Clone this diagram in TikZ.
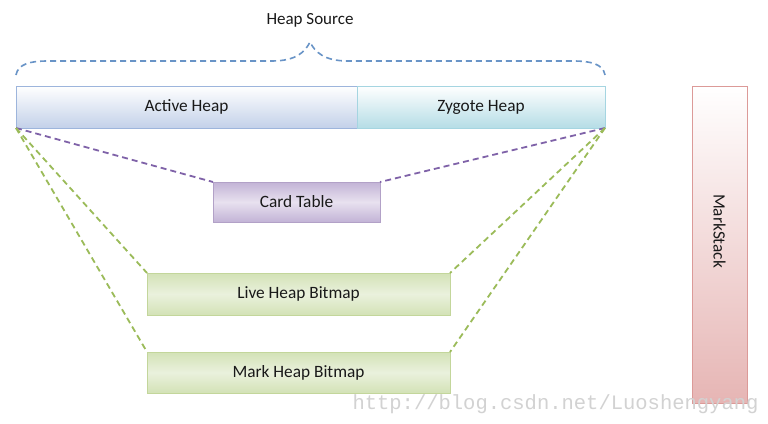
\documentclass[tikz,border=0pt]{standalone}
\usepackage{fontspec}
\setmainfont{Carlito}
\newfontfamily\wmfont{Liberation Mono}
\begin{document}
\begin{tikzpicture}[x=1pt,y=-1pt,
  box/.style={draw, line width=1pt, inner sep=0pt, outer sep=0pt, text=black!90, font=\fontsize{17.3}{20}\selectfont},
  bluebox/.style={box, draw=ahline, top color=white, bottom color=ahbot},
  cyanbox/.style={box, draw=zyline, top color=white, bottom color=zybot},
  purplebox/.style={box, draw=ctline, top color=ctbot, bottom color=ctbot, middle color=ctmid},
  greenbox/.style={box, draw=grline, top color=grbot, bottom color=grbot, middle color=grmid},
  redbox/.style={box, draw=msline, top color=white, bottom color=msbot},
  dashline/.style={dash pattern=on 6pt off 4pt, line width=1.8pt},
]
\definecolor{ahline}{HTML}{9DB5DC}
\definecolor{ahbot}{HTML}{C3D1E9}
\definecolor{zyline}{HTML}{A5D5E1}
\definecolor{zybot}{HTML}{B5DDE6}
\definecolor{ctline}{HTML}{B2A1C7}
\definecolor{ctbot}{HTML}{C2B3D6}
\definecolor{ctmid}{HTML}{E8E1EF}
\definecolor{grline}{HTML}{C3D69B}
\definecolor{grbot}{HTML}{D3E2B6}
\definecolor{grmid}{HTML}{EAF1DD}
\definecolor{msline}{HTML}{DC9A98}
\definecolor{msbot}{HTML}{E6B5B4}
\definecolor{brline}{HTML}{4F81BD}
\definecolor{pudash}{HTML}{7F62A8}
\definecolor{grdash}{HTML}{9BBB59}
\useasboundingbox[fill=white] (0,0) rectangle (768,423);

\node[font=\fontsize{17}{20}\selectfont, text=black!90] (hs) at (310,20) {Heap Source};
\draw[dashline, line width=1.6pt, draw=brline!85]
  (16,75) .. controls (18,64) and (30,61) .. (48,61) -- (272,61)
  .. controls (296,61) and (305,52) .. (310,42)
  .. controls (315,52) and (324,61) .. (348,61) -- (573,61)
  .. controls (591,61) and (603,64) .. (605,75);

\node[bluebox, minimum width=341pt, minimum height=42pt] (ah) at (186.5,107) {Active Heap};
\node[cyanbox, minimum width=248pt, minimum height=42pt] (zy) at (481,107) {Zygote Heap};
\node[purplebox, minimum width=167pt, minimum height=40pt] (ct) at (296.5,202) {Card Table};
\node[greenbox, minimum width=303pt, minimum height=42pt] (lhb) at (298.5,294) {Live Heap Bitmap};
\node[greenbox, minimum width=303pt, minimum height=41pt] (mhb) at (298.5,372.5) {Mark Heap Bitmap};
\node[redbox, minimum width=55pt, minimum height=317pt] (ms) at (719.5,244.5) {};
\node[rotate=-90, font=\fontsize{17.3}{20}\selectfont, text=black!90] (mst) at (719.5,231) {MarkStack};

\draw[dashline, draw=pudash] (ah.south west) -- (ct.north west);
\draw[dashline, draw=pudash] (zy.south east) -- (ct.north east);
\draw[dashline, draw=grdash] (ah.south west) -- (lhb.north west);
\draw[dashline, draw=grdash] (ah.south west) -- (mhb.north west);
\draw[dashline, draw=grdash] (zy.south east) -- (lhb.north east);
\draw[dashline, draw=grdash] (zy.south east) -- (mhb.north east);

\node[font=\wmfont\fontsize{20.5}{22}\selectfont, text=gray!35, anchor=east] (wm) at (762,404) {http://blog.csdn.net/Luoshengyang};
\end{tikzpicture}
\end{document}
